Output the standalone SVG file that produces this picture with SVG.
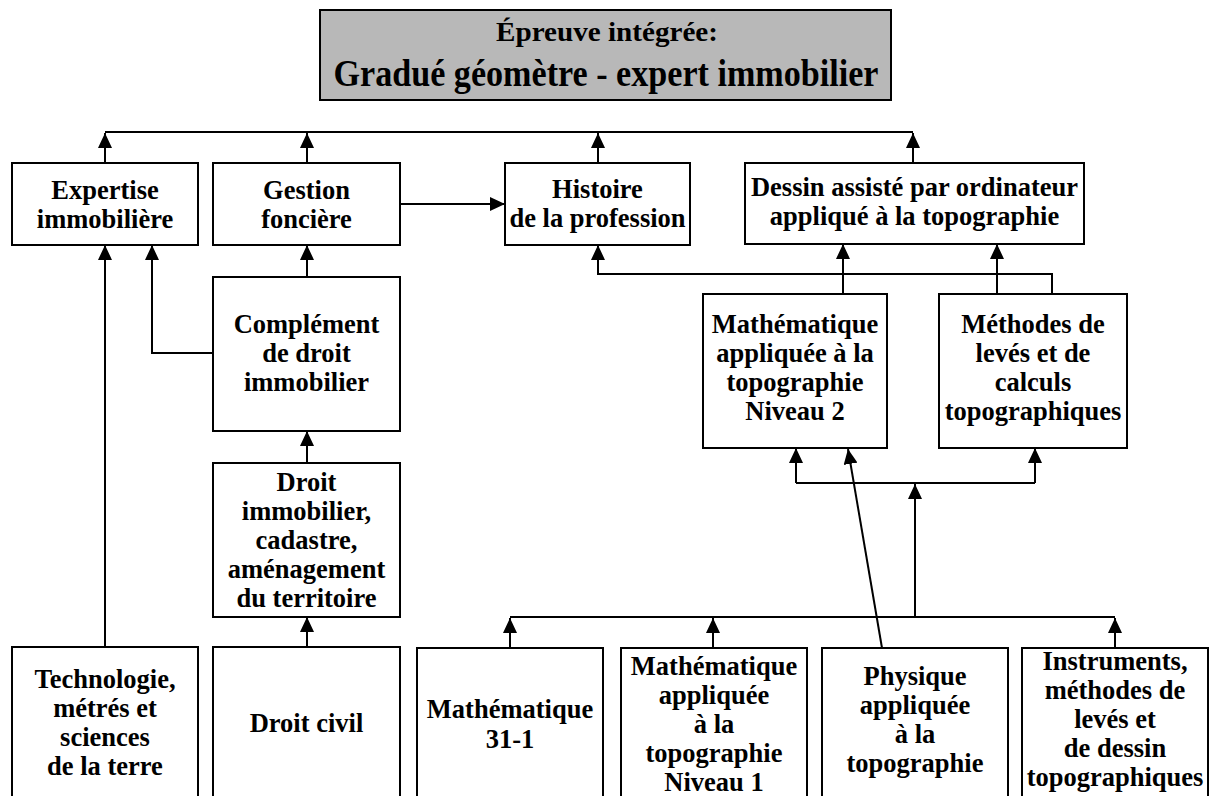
<svg xmlns="http://www.w3.org/2000/svg" width="1212" height="796" viewBox="0 0 1212 796">
<defs>
<style>
.box{fill:#fff;stroke:#000;stroke-width:2}
.t{font-family:"Liberation Serif","Times New Roman",serif;font-weight:bold;font-size:26.5px;text-anchor:middle;fill:#000}
.c{fill:none;stroke:#000;stroke-width:2}
.ttl{font-family:"Liberation Serif","Times New Roman",serif;font-weight:bold;text-anchor:middle;fill:#000}
</style>
<marker id="arr" markerUnits="userSpaceOnUse" markerWidth="16" markerHeight="14" refX="15" refY="7" orient="auto">
<path d="M0,0 L15,7 L0,14 z" fill="#000"/>
</marker>
</defs>
<rect width="1212" height="796" fill="#fff"/>
<g id="title">
<rect x="320" y="10" width="571" height="90" fill="#b8b8b8" stroke="#000" stroke-width="2"/>
<text class="ttl" x="607" y="41" font-size="28" textLength="222" lengthAdjust="spacingAndGlyphs">Épreuve intégrée:</text>
<text class="ttl" x="606" y="86" font-size="37" textLength="545" lengthAdjust="spacingAndGlyphs">Gradué géomètre - expert immobilier</text>
</g>
<g id="connectors">
<path class="c" d="M105 132 H913"/>
<path class="c" d="M105 163 V133" marker-end="url(#arr)"/>
<path class="c" d="M307 163 V133" marker-end="url(#arr)"/>
<path class="c" d="M598 163 V133" marker-end="url(#arr)"/>
<path class="c" d="M913 163 V133" marker-end="url(#arr)"/>
<path class="c" d="M400 204 H505" marker-end="url(#arr)"/>
<path class="c" d="M307 277 V245" marker-end="url(#arr)"/>
<path class="c" d="M213 353 H152 V245" marker-end="url(#arr)"/>
<path class="c" d="M105 647 V245" marker-end="url(#arr)"/>
<path class="c" d="M307 463 V431" marker-end="url(#arr)"/>
<path class="c" d="M307 647 V617" marker-end="url(#arr)"/>
<path class="c" d="M843 294 V244" marker-end="url(#arr)"/>
<path class="c" d="M997 294 V244" marker-end="url(#arr)"/>
<path class="c" d="M1052 294 V274 H598 V245" marker-end="url(#arr)"/>
<path class="c" d="M510 617 H1115"/>
<path class="c" d="M510 648 V618" marker-end="url(#arr)"/>
<path class="c" d="M713 648 V618" marker-end="url(#arr)"/>
<path class="c" d="M1115 648 V618" marker-end="url(#arr)"/>
<path class="c" d="M915 617 V484" marker-end="url(#arr)"/>
<path class="c" d="M796 483 H1035"/>
<path class="c" d="M796 483 V448" marker-end="url(#arr)"/>
<path class="c" d="M1035 483 V448" marker-end="url(#arr)"/>
<path class="c" d="M882 648 L848 449" marker-end="url(#arr)"/>
</g>
<g id="expertise">
<rect class="box" x="12" y="163" width="186" height="82"/>
<text class="t" x="105" y="199">Expertise</text>
<text class="t" x="105" y="228">immobilière</text>
</g>
<g id="gestion">
<rect class="box" x="213" y="163" width="187" height="82"/>
<text class="t" x="306.5" y="199">Gestion</text>
<text class="t" x="306.5" y="228">foncière</text>
</g>
<g id="histoire">
<rect class="box" x="505" y="163" width="185" height="82"/>
<text class="t" x="597.5" y="198">Histoire</text>
<text class="t" x="597.5" y="227">de la profession</text>
</g>
<g id="dessin">
<rect class="box" x="745" y="163" width="339" height="81"/>
<text class="t" x="914.5" y="196">Dessin assisté par ordinateur</text>
<text class="t" x="914.5" y="225">appliqué à la topographie</text>
</g>
<g id="complement">
<rect class="box" x="213" y="277" width="187" height="154"/>
<text class="t" x="306.5" y="333">Complément</text>
<text class="t" x="306.5" y="362">de droit</text>
<text class="t" x="306.5" y="391">immobilier</text>
</g>
<g id="droit-immobilier">
<rect class="box" x="213" y="463" width="187" height="154"/>
<text class="t" x="306.5" y="491">Droit</text>
<text class="t" x="306.5" y="520">immobilier,</text>
<text class="t" x="306.5" y="549">cadastre,</text>
<text class="t" x="306.5" y="578">aménagement</text>
<text class="t" x="306.5" y="607">du territoire</text>
</g>
<g id="math-n2">
<rect class="box" x="703" y="294" width="184" height="154"/>
<text class="t" x="795" y="333">Mathématique</text>
<text class="t" x="795" y="362">appliquée à la</text>
<text class="t" x="795" y="391">topographie</text>
<text class="t" x="795" y="420">Niveau 2</text>
</g>
<g id="methodes">
<rect class="box" x="939" y="294" width="188" height="154"/>
<text class="t" x="1033" y="333">Méthodes de</text>
<text class="t" x="1033" y="362">levés et de</text>
<text class="t" x="1033" y="391">calculs</text>
<text class="t" x="1033" y="420">topographiques</text>
</g>
<g id="technologie">
<rect class="box" x="12" y="647" width="186" height="160"/>
<text class="t" x="105" y="688">Technologie,</text>
<text class="t" x="105" y="717">métrés et</text>
<text class="t" x="105" y="746">sciences</text>
<text class="t" x="105" y="775">de la terre</text>
</g>
<g id="droit-civil">
<rect class="box" x="213" y="647" width="187" height="160"/>
<text class="t" x="306.5" y="732">Droit civil</text>
</g>
<g id="math-31-1">
<rect class="box" x="417" y="648" width="186" height="160"/>
<text class="t" x="510" y="718">Mathématique</text>
<text class="t" x="510" y="748">31-1</text>
</g>
<g id="math-n1">
<rect class="box" x="621" y="648" width="186" height="160"/>
<text class="t" x="714" y="675">Mathématique</text>
<text class="t" x="714" y="704">appliquée</text>
<text class="t" x="714" y="733">à la</text>
<text class="t" x="714" y="762">topographie</text>
<text class="t" x="714" y="791">Niveau 1</text>
</g>
<g id="physique">
<rect class="box" x="822" y="648" width="186" height="160"/>
<text class="t" x="915" y="685">Physique</text>
<text class="t" x="915" y="714">appliquée</text>
<text class="t" x="915" y="743">à la</text>
<text class="t" x="915" y="772">topographie</text>
</g>
<g id="instruments">
<rect class="box" x="1022" y="648" width="186" height="160"/>
<text class="t" x="1115" y="670">Instruments,</text>
<text class="t" x="1115" y="699">méthodes de</text>
<text class="t" x="1115" y="728">levés et</text>
<text class="t" x="1115" y="757">de dessin</text>
<text class="t" x="1115" y="786">topographiques</text>
</g>
</svg>
